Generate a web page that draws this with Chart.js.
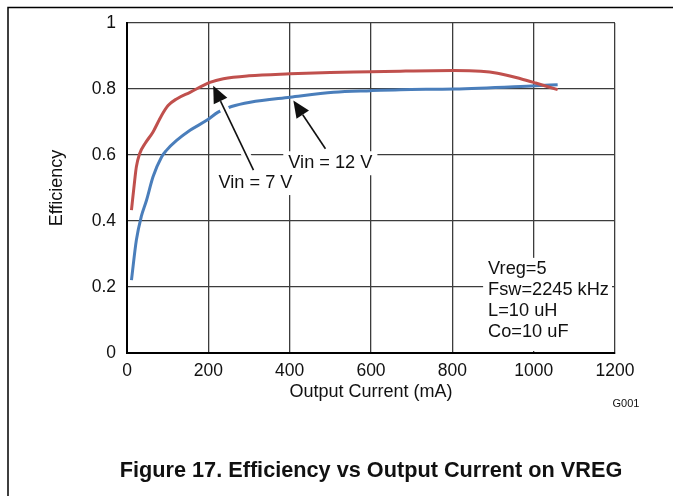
<!DOCTYPE html>
<html>
<head>
<meta charset="utf-8">
<script src="https://cdn.jsdelivr.net/npm/chart.js@4.4.1/dist/chart.umd.min.js"></script>
<style>
html, body { margin: 0; padding: 0; background: #fff; }
#wrap { width: 673px; height: 496px; }
</style>
</head>
<body>
<div id="wrap"><canvas id="chart" width="673" height="496"></canvas></div>
<script>
// Vin = 7 V curve (red)
const current7 = [11, 19, 23, 31, 44, 64, 85, 101, 122, 155, 204, 237, 300, 401, 500, 600, 672, 803, 870, 911, 968, 1005, 1059]
const eff7 = [0.433, 0.524, 0.564, 0.604, 0.634, 0.670, 0.720, 0.750, 0.770, 0.790, 0.820, 0.831, 0.840, 0.846, 0.850, 0.852, 0.854, 0.856, 0.854, 0.848, 0.831, 0.818, 0.798]

// Vin = 12 V curve (blue)
const current12 = [11, 23, 35, 48, 64, 85, 97, 122, 155, 196, 224, 257, 303, 401, 508, 600, 672, 804, 1005, 1059]
const eff12 = [0.221, 0.342, 0.413, 0.463, 0.534, 0.594, 0.614, 0.644, 0.675, 0.705, 0.730, 0.747, 0.760, 0.775, 0.790, 0.795, 0.798, 0.800, 0.810, 0.813]

const xTicks = [0, 200, 400, 600, 800, 1000, 1200]
const xTickLabels = ['0', '200', '400', '600', '800', '1000', '1200']
const yTickLabels = ['0', '0.2', '0.4', '0.6', '0.8', '1']

// annotations, in data units
const noteText = ['Vin = 7 V', 'Vin = 12 V']
const noteAt = [[316, 0.515], [500, 0.575]]
const arrowTip = [[212, 0.81], [409, 0.765]]
const arrowTail = [[311, 0.554], [488, 0.619]]
const condText = ['Vreg=5', 'Fsw=2245 kHz', 'L=10 uH', 'Co=10 uF']
const condAt = [888, 0.255]

const FONT = "'Liberation Sans', Arial, Helvetica, sans-serif"

function toPoints(xs, ys) {
    return xs.map((x, i) => ({ x: x, y: ys[i] }))
}

const decor = {
    id: 'decor',
    beforeDraw(chart) {
        const ctx = chart.ctx
        ctx.save()
        ctx.fillStyle = '#fff'
        ctx.fillRect(0, 0, chart.width, chart.height)
        // page frame
        ctx.strokeStyle = '#000'
        ctx.lineWidth = 1.5
        ctx.beginPath()
        ctx.moveTo(8, chart.height)
        ctx.lineTo(8, 7.5)
        ctx.lineTo(chart.width, 7.5)
        ctx.stroke()
        ctx.restore()
    },
    afterDatasetsDraw(chart) {
        const ctx = chart.ctx
        const xs = chart.scales.x
        const ys = chart.scales.y
        ctx.save()
        ctx.font = '18.2px ' + FONT
        ctx.textBaseline = 'middle'

        // conditions block with white background
        const cx = xs.getPixelForValue(condAt[0])
        const cy = ys.getPixelForValue(condAt[1])
        ctx.fillStyle = '#fff'
        ctx.fillRect(cx - 5, cy - 11, chart.chartArea.right - 3 - (cx - 5), chart.chartArea.bottom - 2 - (cy - 11))
        ctx.fillStyle = '#111'
        ctx.textAlign = 'left'
        condText.forEach((t, i) => ctx.fillText(t, cx, cy + i * 21))

        // Vin notes
        ctx.textAlign = 'center'
        noteText.forEach((t, i) => {
            const px = xs.getPixelForValue(noteAt[i][0])
            const py = ys.getPixelForValue(noteAt[i][1])
            const w = ctx.measureText(t).width
            ctx.fillStyle = '#fff'
            ctx.fillRect(px - w / 2 - 5, py - 12, w + 10, 24)
        })
        noteText.forEach((t, i) => {
            const px = xs.getPixelForValue(noteAt[i][0])
            const py = ys.getPixelForValue(noteAt[i][1])
            ctx.fillStyle = '#111'
            ctx.fillText(t, px, py)
        })

        // arrows
        arrowTip.forEach((tip, i) => {
            const x1 = xs.getPixelForValue(arrowTail[i][0])
            const y1 = ys.getPixelForValue(arrowTail[i][1])
            const x2 = xs.getPixelForValue(tip[0])
            const y2 = ys.getPixelForValue(tip[1])
            const ang = Math.atan2(y2 - y1, x2 - x1)
            const headLen = 17, headW = 7.5
            const bx = x2 - headLen * Math.cos(ang)
            const by = y2 - headLen * Math.sin(ang)
            // white halo on the shaft
            ctx.strokeStyle = '#fff'
            ctx.lineWidth = 9
            ctx.beginPath()
            ctx.moveTo(x1 + 4 * Math.cos(ang), y1 + 4 * Math.sin(ang))
            ctx.lineTo(bx, by)
            ctx.stroke()
            ctx.strokeStyle = '#111'
            ctx.lineWidth = 1.6
            ctx.beginPath()
            ctx.moveTo(x1, y1)
            ctx.lineTo(bx, by)
            ctx.stroke()
            ctx.fillStyle = '#111'
            ctx.beginPath()
            ctx.moveTo(x2, y2)
            ctx.lineTo(bx + headW * Math.sin(ang), by - headW * Math.cos(ang))
            ctx.lineTo(bx - headW * Math.sin(ang), by + headW * Math.cos(ang))
            ctx.closePath()
            ctx.fill()
        })
        ctx.restore()
    },
    afterDraw(chart) {
        const ctx = chart.ctx
        ctx.save()
        ctx.fillStyle = '#111'
        ctx.textAlign = 'center'
        ctx.textBaseline = 'middle'
        ctx.font = '11px ' + FONT
        ctx.fillText('G001', 626, 404)
        ctx.font = 'bold 21.7px ' + FONT
        ctx.fillText('Figure 17. Efficiency vs Output Current on VREG', 371, 471)
        ctx.restore()
    }
}

const ctx = document.getElementById('chart').getContext('2d')
new Chart(ctx, {
    type: 'line',
    data: {
        datasets: [
            {
                label: 'Vin = 7 V',
                data: toPoints(current7, eff7),
                borderColor: '#c0504d',
                borderWidth: 3,
                pointRadius: 0,
                cubicInterpolationMode: 'monotone',
                fill: false
            },
            {
                label: 'Vin = 12 V',
                data: toPoints(current12, eff12),
                borderColor: '#4a7ebb',
                borderWidth: 3,
                pointRadius: 0,
                cubicInterpolationMode: 'monotone',
                fill: false
            }
        ]
    },
    options: {
        responsive: false,
        animation: false,
        events: [],
        layout: { padding: { left: 0, top: 23, right: 58, bottom: 0 } },
        plugins: {
            legend: { display: false },
            tooltip: { enabled: false }
        },
        scales: {
            x: {
                type: 'linear',
                min: 0,
                max: 1200,
                afterBuildTicks: (s) => { s.ticks = xTicks.map(v => ({ value: v })) },
                ticks: {
                    color: '#111',
                    font: { family: FONT, size: 17.5 },
                    padding: 8,
                    maxRotation: 0,
                    callback: (v, i) => xTickLabels[i]
                },
                grid: { color: '#3c3c3c', lineWidth: 1.3, drawTicks: false },
                border: { color: '#000', width: 2 },
                title: {
                    display: true,
                    text: 'Output Current (mA)',
                    color: '#111',
                    font: { family: FONT, size: 18 },
                    padding: { top: 0, bottom: 93 }
                },
                afterFit: (s) => { s.height = 143 }
            },
            y: {
                min: 0,
                max: 1,
                ticks: {
                    stepSize: 0.2,
                    color: '#111',
                    font: { family: FONT, size: 17.5 },
                    padding: 11,
                    callback: (v, i) => yTickLabels[i]
                },
                grid: { color: '#3c3c3c', lineWidth: 1.3, drawTicks: false },
                border: { color: '#000', width: 2 },
                title: {
                    display: true,
                    text: 'Efficiency',
                    color: '#111',
                    font: { family: FONT, size: 18 },
                    padding: { top: 46, bottom: 0 }
                },
                afterFit: (s) => { s.width = 127 }
            }
        }
    },
    plugins: [decor]
})
</script>
</body>
</html>
